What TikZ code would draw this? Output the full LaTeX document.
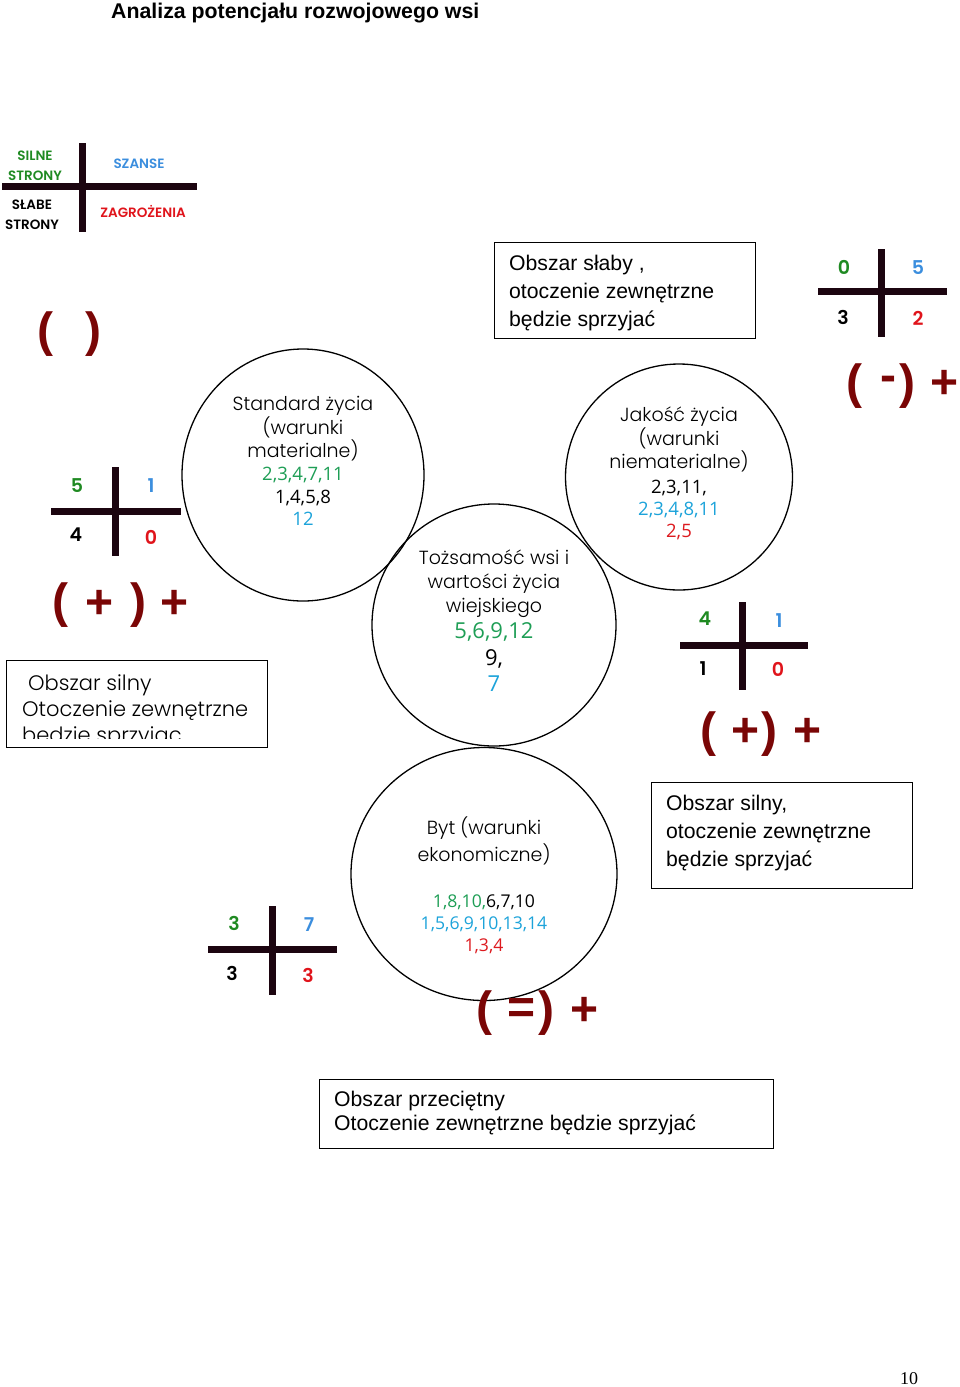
\documentclass[tikz,border=0pt]{standalone}
\usepackage{fontspec}
\usetikzlibrary{shapes.geometric}
\setmainfont{Liberation Sans}
\IfFontExistsTF{Poppins Light}{\newfontfamily\gothic{Poppins Light}}{\newfontfamily\gothic{Poppins}}
\IfFontExistsTF{Poppins SemiBold}{\newfontfamily\gothicb{Poppins SemiBold}}{\newfontfamily\gothicb{Poppins}[FakeBold=1.5]}
\newfontfamily\numfont{Open Sans}
\newfontfamily\pagefont{Liberation Serif}
\definecolor{dred}{HTML}{7A0606}
\definecolor{barc}{HTML}{1C0510}
\definecolor{lgreen}{HTML}{1F8A22}
\definecolor{lblue}{HTML}{3B8EDE}
\definecolor{lred}{HTML}{E0141B}
\definecolor{cgreen}{HTML}{1E9E55}
\definecolor{cblue}{HTML}{1CA3DA}
\definecolor{cred}{HTML}{DD1A1F}
\begin{document}
\begin{tikzpicture}[x=1pt,y=-1pt,
  bar/.style={draw=barc, line width=7pt},
  ring/.style={draw=black, line width=1.3pt, ellipse, inner sep=0},
  frame/.style={draw=black, line width=1.4pt, anchor=north west, inner sep=0},
  ctext/.style={font=\gothic\fontsize{19}{19}\selectfont, anchor=base, inner sep=0},
  cnum/.style={font=\numfont\fontsize{18.5}{18.5}\selectfont, anchor=base, inner sep=0},
  dnum/.style={font=\numfont\fontsize{17.6}{17.6}\selectfont, anchor=base, inner sep=0},
  bnum/.style={font=\numfont\fontsize{22}{22}\selectfont, anchor=base, inner sep=0},
  xlab/.style={font=\gothicb\fontsize{19}{19}\selectfont, inner sep=0},
  leg/.style={font=\gothicb\fontsize{13.5}{20}\selectfont, inner sep=0, align=center},
  sign/.style={font=\bfseries\fontsize{48}{48}\selectfont, text=dred, inner sep=0},
  btext/.style={font=\fontsize{21.2}{21.2}\selectfont, anchor=base west, inner sep=0},
  gtext/.style={font=\gothic\fontsize{21}{21}\selectfont, anchor=base west, inner sep=0},
]
\useasboundingbox[fill=white] (0,0) rectangle (960,1387);

% title
\node[font=\bfseries\fontsize{21.3}{21.3}\selectfont, anchor=base west, inner sep=0] (title) at (111,18) {Analiza potencjału rozwojowego wsi};

% legend cross
\draw[bar] (82,143) -- (82,232);
\draw[bar] (2,186) -- (197,186);
\node[leg, text=lgreen] (lsil) at (35,166) {SILNE\\STRONY};
\node[leg, text=lblue] (lsza) at (139,164) {SZANSE};
\node[leg] (lsla) at (32,215) {SŁABE\\STRONY};
\node[leg, text=lred] (lzag) at (143,211) {ZAGROŻENIA};

% ( )
\node[sign] (p1a) at (45,334) {(};
\node[sign] (p1b) at (93,334) {)};

% cross 1
\draw[bar] (115,467) -- (115,556);
\draw[bar] (51,511) -- (181,511);
\node[xlab, text=lgreen] (c1a) at (77,486) {5};
\node[xlab, text=lblue] (c1b) at (151,486) {1};
\node[xlab] (c1c) at (76,535) {4};
\node[xlab, text=lred] (c1d) at (151,537) {0};
\node[sign] (s1a) at (60,605) {(};
\node[sign] (s1b) at (100,604) {+};
\node[sign] (s1c) at (138,605) {)};
\node[sign] (s1d) at (175,604) {+};

% left box
\node[frame, minimum width=261, minimum height=87] (boxL) at (6,660) {};
\begin{scope}
\clip (7,661) rectangle (266,738);
\node[gtext] (bl1) at (28,690) {Obszar silny};
\node[gtext] (bl2) at (22,716) {Otoczenie zewnętrzne};
\node[gtext] (bl3) at (22,742) {bedzie sprzyjac};
\end{scope}

% circle A
\node[ring, minimum width=242, minimum height=252] (A) at (303,475) {};
\node[ctext] (a1) at (303,410) {Standard życia};
\node[ctext] (a2) at (303,434) {(warunki};
\node[ctext] (a3) at (303,457) {materialne)};
\node[cnum, text=cgreen] (a4) at (303,480) {2,3,4,7,11};
\node[cnum] (a5) at (303,503) {1,4,5,8};
\node[cnum, text=cblue] (a6) at (303,525) {12};

% circle B
\node[ring, minimum width=244, minimum height=242] (B) at (494,625) {};
\node[ctext] (b1) at (494,564) {Tożsamość wsi i};
\node[ctext] (b2) at (494,588) {wartości życia};
\node[ctext] (b3) at (494,612) {wiejskiego};
\node[bnum, text=cgreen] (b4) at (494,638) {5,6,9,12};
\node[bnum] (b5) at (494,665) {9,};
\node[bnum, text=cblue] (b6) at (494,691) {7};

% circle C
\node[ring, minimum width=227, minimum height=226] (C) at (679,477) {};
\node[ctext] (k1) at (679,421) {Jakość życia};
\node[ctext] (k2) at (679,445) {(warunki};
\node[ctext] (k3) at (679,468) {niematerialne)};
\node[cnum] (k4) at (679,493) {2,3,11,};
\node[cnum, text=cblue] (k5) at (679,515) {2,3,4,8,11};
\node[cnum, text=cred] (k6) at (679,537) {2,5};

% top box
\node[frame, minimum width=261, minimum height=96] (boxT) at (494,242) {};
\node[btext] (t1) at (509,270) {Obszar słaby ,};
\node[btext] (t2) at (509,298) {otoczenie zewnętrzne};
\node[btext] (t3) at (509,326) {będzie sprzyjać};

% cross top right
\draw[bar] (881,249) -- (881,337);
\draw[bar] (818,291) -- (947,291);
\node[xlab, text=lgreen] (c2a) at (844,267) {0};
\node[xlab, text=lblue] (c2b) at (918,268) {5};
\node[xlab] (c2c) at (843,317) {3};
\node[xlab, text=lred] (c2d) at (918,318) {2};
\node[sign] (s2a) at (854,386) {(};
\node[sign] (s2b) at (888,384) {-};
\node[sign] (s2c) at (907,386) {)};
\node[sign] (s2d) at (945,384) {+};

% cross mid right
\draw[bar] (742,602) -- (742,690);
\draw[bar] (680,645) -- (808,645);
\node[xlab, text=lgreen] (c3a) at (705,619) {4};
\node[xlab, text=lblue] (c3b) at (779,621) {1};
\node[xlab] (c3c) at (703,669) {1};
\node[xlab, text=lred] (c3d) at (778,669) {0};
\node[sign] (s3a) at (708,734) {(};
\node[sign] (s3b) at (746,732) {+};
\node[sign] (s3c) at (769,734) {)};
\node[sign] (s3d) at (808,732) {+};

% right box
\node[frame, minimum width=261, minimum height=106] (boxR) at (651,782) {};
\node[btext] (r1) at (666,810) {Obszar silny,};
\node[btext] (r2) at (666,838) {otoczenie zewnętrzne};
\node[btext] (r3) at (666,866) {będzie sprzyjać};

% circle D
\node[ring, minimum width=266, minimum height=253] (D) at (484,874) {};
\node[ctext] (d1) at (484,834) {Byt (warunki};
\node[ctext] (d2) at (484,861) {ekonomiczne)};
\node[dnum] (d3) at (484,907) {\textcolor{cgreen}{1,8,10,}6,7,10};
\node[dnum, text=cblue] (d4) at (484,929) {1,5,6,9,10,13,14};
\node[dnum, text=cred] (d5) at (484,951) {1,3,4};

% cross bottom left
\draw[bar] (272,906) -- (272,995);
\draw[bar] (208,949) -- (337,949);
\node[xlab, text=lgreen] (c4a) at (234,923) {3};
\node[xlab, text=lblue] (c4b) at (309,925) {7};
\node[xlab] (c4c) at (232,973) {3};
\node[xlab, text=lred] (c4d) at (308,975) {3};
\node[sign] (s4a) at (484,1013) {(};
\node[sign] (s4b) at (522,1011) {=};
\node[sign] (s4c) at (546,1013) {)};
\node[sign] (s4d) at (585,1011) {+};

% bottom box
\node[frame, minimum width=454, minimum height=69] (boxB) at (319,1079) {};
\node[btext] (q1) at (334,1106) {Obszar przeciętny};
\node[btext] (q2) at (334,1130) {Otoczenie zewnętrzne będzie sprzyjać};

% page number
\node[font=\pagefont\fontsize{18}{18}\selectfont, inner sep=0] (pg) at (909,1379) {10};
\end{tikzpicture}
\end{document}
